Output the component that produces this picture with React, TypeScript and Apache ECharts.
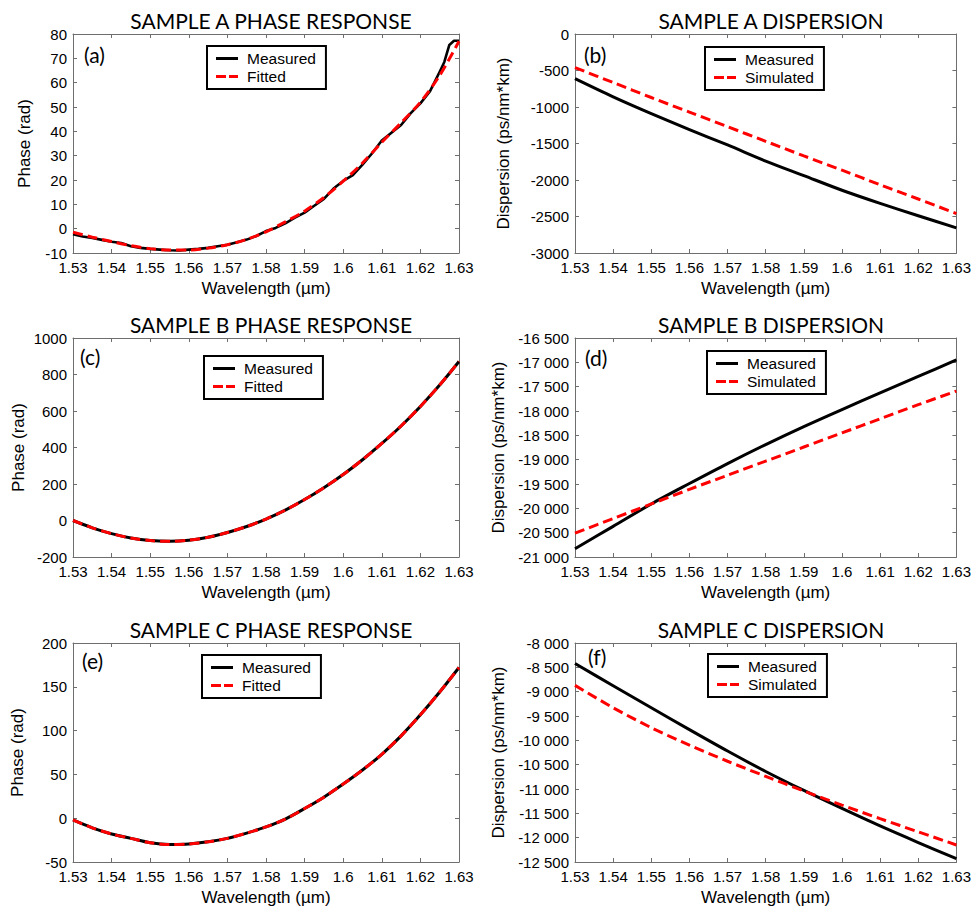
import React, { useEffect, useRef } from 'react';
import * as echarts from 'echarts';

// ---------- data ----------
const WL_FINE = [1.53, 1.535, 1.54, 1.545, 1.55, 1.555, 1.56, 1.565, 1.57, 1.575, 1.58, 1.585, 1.59, 1.595, 1.6, 1.605, 1.61, 1.615, 1.62, 1.625, 1.63];
const WL_DISP = [1.53, 1.54, 1.55, 1.56, 1.57, 1.58, 1.59, 1.6, 1.61, 1.62, 1.63];

const WL_A_MEAS = [1.53, 1.5325, 1.535, 1.5375, 1.54, 1.5425, 1.545, 1.5475, 1.55, 1.5525, 1.555, 1.5575, 1.56, 1.5625, 1.565, 1.5675, 1.57, 1.5725, 1.575, 1.5775, 1.58, 1.5825, 1.585, 1.5875, 1.59, 1.5925, 1.595, 1.5975, 1.6, 1.6025, 1.605, 1.6075, 1.61, 1.6125, 1.615, 1.6175, 1.62, 1.6225, 1.625, 1.6262, 1.6275, 1.6287, 1.63];
const A_MEASURED = [-2.3, -3.2, -3.8, -4.6, -5.4, -5.9, -7.2, -7.9, -8.3, -8.6, -8.9, -9.0, -8.6, -8.3, -7.9, -7.2, -6.6, -5.6, -4.5, -3.0, -1.0, 0.3, 2.2, 4.5, 6.6, 9.4, 12.2, 16.5, 19.6, 22.0, 26.3, 31.0, 36.2, 39.4, 42.6, 47.5, 51.5, 56.5, 64.5, 68.5, 75.5, 77.2, 77.2];
const A_FITTED = [-1.5, -3.5, -5.3, -7.0, -8.2, -8.8, -8.8, -8.0, -6.6, -4.4, -1.3, 2.8, 7.2, 12.8, 19.5, 27.0, 35.5, 43.5, 52.0, 63.0, 77.0];

const B_MEASURED = [-611, -860, -1090, -1310, -1520, -1740, -1940, -2140, -2320, -2490, -2655];
const B_SIMULATED = [-460, -665, -870, -1070, -1270, -1470, -1670, -1865, -2065, -2260, -2460];

const C_MEASURED = [0, -40, -72, -96, -110, -114, -108, -92, -66, -33, 8, 57, 115, 180, 252, 333, 422, 518, 625, 742, 871];
const C_FITTED = [0, -40, -72, -96, -110, -114, -108, -92, -66, -33, 8, 57, 115, 180, 252, 333, 422, 518, 625, 742, 871];

const D_MEASURED = [-20830, -20370, -19910, -19490, -19080, -18690, -18320, -17970, -17630, -17290, -16950];
const D_SIMULATED = [-20510, -20210, -19910, -19610, -19320, -19030, -18740, -18450, -18160, -17870, -17590];

const E_MEASURED = [-2, -11, -18, -23, -28, -30, -29.5, -27, -23, -17, -10, -1, 11, 24, 39, 55, 73, 94, 118, 144, 172];
const E_FITTED = [-2, -11, -18, -23, -28, -30, -29.5, -27, -23, -17, -10, -1, 11, 24, 39, 55, 73, 94, 118, 144, 172];

const F_MEASURED = [-8420, -8880, -9330, -9780, -10220, -10640, -11030, -11400, -11760, -12100, -12430];
const F_SIMULATED = [-8870, -9330, -9740, -10100, -10430, -10740, -11040, -11330, -11610, -11880, -12150];

const TITLES = ['SAMPLE A PHASE RESPONSE', 'SAMPLE A DISPERSION', 'SAMPLE B PHASE RESPONSE', 'SAMPLE B DISPERSION', 'SAMPLE C PHASE RESPONSE', 'SAMPLE C DISPERSION'];
const TAGS = ['(a)', '(b)', '(c)', '(d)', '(e)', '(f)'];
const Y_NAMES = ['Phase (rad)', 'Dispersion (ps/nm*km)', 'Phase (rad)', 'Dispersion (ps/nm*km)', 'Phase (rad)', 'Dispersion (ps/nm*km)'];
const X_NAME = 'Wavelength (µm)';
const Y_RANGES = [[-10, 80, 10], [-3000, 0, 500], [-200, 1000, 200], [-21000, -16500, 500], [-50, 200, 50], [-12500, -8000, 500]];
const X_RANGE = [1.53, 1.63, 0.01];

const zip = (xs: number[], ys: number[]) => xs.map((x, i) => [x, ys[i]]);

const plainFmt = (v: number) => String(Math.round(v));
const spacedFmt = (v: number) => {
  const s = Math.abs(Math.round(v)).toString();
  const t = s.length > 3 ? s.slice(0, -3) + ' ' + s.slice(-3) : s;
  return (v < 0 ? '-' : '') + t;
};
const xFmt = (v: number) => String(parseFloat(v.toFixed(2)));

const SOLID_ICON = 'path://M0,0h22v3h-22z';
const DASH_ICON = 'path://M0,0h10v3h-10zM13,0h9v3h-9z';

export default function App() {
  const ref = useRef<HTMLDivElement>(null);
  useEffect(() => {
    if (!ref.current) return;
    const chart = echarts.init(ref.current, null, { renderer: 'svg' });

    const grids = [
      { left: 73, top: 34, width: 386, height: 219 },
      { left: 575, top: 34, width: 382, height: 219 },
      { left: 73, top: 338, width: 386, height: 219 },
      { left: 575, top: 338, width: 382, height: 219 },
      { left: 73, top: 643, width: 386, height: 219 },
      { left: 575, top: 643, width: 382, height: 219 },
    ];
    const yNameGaps = [40, 63, 46, 68, 47, 68];
    const yFmts = [plainFmt, plainFmt, plainFmt, spacedFmt, plainFmt, spacedFmt];
    const legendPos = [
      { left: 207, top: 46 },
      { left: 705, top: 47 },
      { left: 204, top: 356 },
      { left: 707, top: 351 },
      { left: 202, top: 655 },
      { left: 708, top: 654 },
    ];
    const tagPos = [[84, 56], [584, 56], [80, 358], [585, 359], [82, 662], [588, 658]];

    const frame = '#6e6e6e';
    const tickFont = { color: '#000', fontFamily: 'Liberation Sans, Arial, sans-serif', fontSize: 15 };
    const nameFont = { color: '#000', fontFamily: 'Liberation Sans, Arial, sans-serif', fontSize: 17 };

    const xAxes: any[] = [];
    const yAxes: any[] = [];
    grids.forEach((g, i) => {
      const common = {
        type: 'value',
        gridIndex: i,
        splitLine: { show: false },
        axisLine: { show: true, onZero: false, lineStyle: { color: frame, width: 1 } },
        axisTick: { show: true, inside: true, length: 4, lineStyle: { color: frame } },
      };
      xAxes.push({
        ...common,
        position: 'bottom',
        min: X_RANGE[0], max: X_RANGE[1], interval: X_RANGE[2],
        axisLabel: { ...tickFont, margin: 7, formatter: xFmt },
        name: X_NAME, nameLocation: 'middle', nameGap: 27, nameTextStyle: nameFont,
      });
      xAxes.push({
        ...common,
        position: 'top',
        min: X_RANGE[0], max: X_RANGE[1], interval: X_RANGE[2],
        axisLabel: { show: false },
      });
      const [mn, mx, iv] = Y_RANGES[i];
      yAxes.push({
        ...common,
        position: 'left',
        min: mn, max: mx, interval: iv,
        axisLabel: { ...tickFont, margin: 6, formatter: yFmts[i] },
        name: Y_NAMES[i], nameLocation: 'middle', nameGap: yNameGaps[i], nameTextStyle: nameFont,
      });
      yAxes.push({
        ...common,
        position: 'right',
        min: mn, max: mx, interval: iv,
        axisLabel: { show: false },
      });
    });

    const measured = (i: number, data: number[][]) => ({
      type: 'line', name: 'Measured', xAxisIndex: 2 * i, yAxisIndex: 2 * i,
      data, showSymbol: false, symbol: 'none', smooth: i === 0 ? false : 0.3,
      lineStyle: { color: '#000', width: i === 0 ? 2.6 : 3, type: 'solid', join: 'round' }, itemStyle: { color: '#000' },
      z: 2,
    });
    const red = (i: number, name: string, data: number[][]) => ({
      type: 'line', name, xAxisIndex: 2 * i, yAxisIndex: 2 * i,
      data, showSymbol: false, symbol: 'none', smooth: 0.3,
      lineStyle: { color: '#ff0000', width: 3, type: [10, 5] }, itemStyle: { color: '#ff0000' },
      z: 3,
    });

    const series = [
      measured(0, zip(WL_A_MEAS, A_MEASURED)), red(0, 'Fitted', zip(WL_FINE, A_FITTED)),
      measured(1, zip(WL_DISP, B_MEASURED)), red(1, 'Simulated', zip(WL_DISP, B_SIMULATED)),
      measured(2, zip(WL_FINE, C_MEASURED)), red(2, 'Fitted', zip(WL_FINE, C_FITTED)),
      measured(3, zip(WL_DISP, D_MEASURED)), red(3, 'Simulated', zip(WL_DISP, D_SIMULATED)),
      measured(4, zip(WL_FINE, E_MEASURED)), red(4, 'Fitted', zip(WL_FINE, E_FITTED)),
      measured(5, zip(WL_DISP, F_MEASURED)), red(5, 'Simulated', zip(WL_DISP, F_SIMULATED)),
    ];

    const legends = legendPos.map((p, i) => ({
      ...p,
      orient: 'vertical',
      selectedMode: false,
      data: [
        { name: 'Measured', icon: SOLID_ICON },
        { name: i % 2 === 0 ? 'Fitted' : 'Simulated', icon: DASH_ICON },
      ],
      itemWidth: 22,
      itemHeight: 3,
      itemGap: 1,
      padding: [4, 10, 4, 9],
      borderColor: '#000',
      borderWidth: 2,
      borderRadius: 0,
      backgroundColor: '#fff',
      textStyle: { color: '#000', fontFamily: 'Liberation Sans, Arial, sans-serif', fontSize: 15.5, lineHeight: 17, padding: [0, 0, 0, 4] },
    }));

    const titles = TITLES.map((t, i) => ({
      text: t,
      left: grids[i].left + grids[i].width / 2,
      top: grids[i].top - 29,
      textAlign: 'center',
      textStyle: { color: '#000', fontFamily: 'Lato, Open Sans, sans-serif', fontSize: 21, fontWeight: 'normal' },
    }));

    const graphic = TAGS.map((t, i) => ({
      type: 'text',
      left: tagPos[i][0],
      top: tagPos[i][1] - 12,
      style: { text: t, fill: '#000', font: '21px Lato, Open Sans, sans-serif' },
      z: 10,
    }));

    chart.setOption({
      animation: false,
      backgroundColor: '#fff',
      title: titles,
      grid: grids,
      xAxis: xAxes,
      yAxis: yAxes,
      legend: legends,
      series,
      graphic,
    });
    return () => chart.dispose();
  }, []);
  return <div ref={ref} style={{ position: 'fixed', left: 0, top: 0, width: 974, height: 908 }} />;
}
